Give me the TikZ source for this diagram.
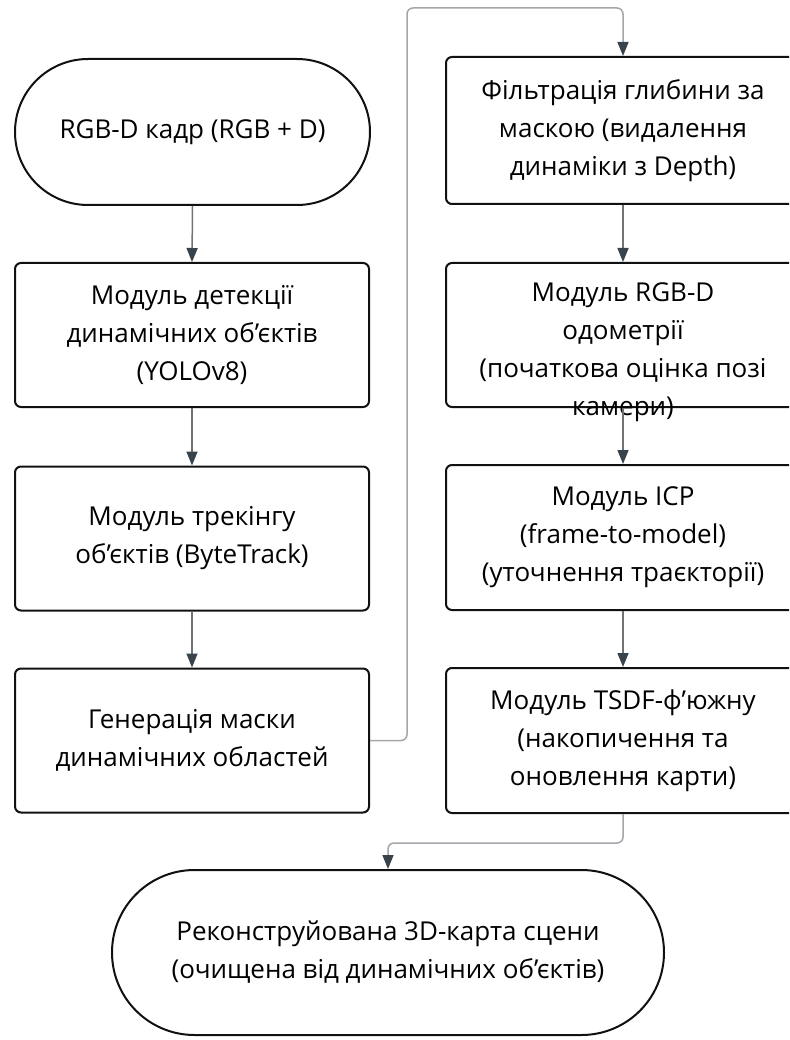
\documentclass[tikz,border=0pt]{standalone}
\usepackage{fontspec}
\setmainfont{Open Sans}
\usetikzlibrary{arrows.meta,shapes.misc}
\definecolor{linec}{HTML}{6E7378}
\definecolor{elbowc}{HTML}{A3A7AB}
\definecolor{tipc}{HTML}{38434C}
\definecolor{boxc}{HTML}{111111}
\begin{document}
\begin{tikzpicture}[x=1pt,y=-1pt,
  txt/.style={align=center, font=\fontsize{26}{38}\selectfont, inner sep=0pt},
  box/.style={txt, draw=boxc, line width=2pt, rounded corners=6pt,
    minimum width=354pt, minimum height=144pt},
  pill/.style={txt, draw=boxc, line width=2pt, rounded rectangle},
  arr/.style={draw=linec, line width=1.5pt,
    -{Triangle[length=14pt,width=11pt,color=tipc]}},
  elbow/.style={draw=elbowc, line width=1.5pt, rounded corners=6pt,
    -{Triangle[length=14pt,width=11pt,color=tipc]}}]
\useasboundingbox (0,0) rectangle (789,1040);
\clip (0,0) rectangle (789,1040);

% left column
\node[pill, minimum width=355pt, minimum height=146pt] (start) at (192.5,132) {RGB-D кадр (RGB + D)};
\node[box] (b2) at (192,335) {Модуль детекції\\динамічних об’єктів\\(YOLOv8)};
\node[box] (b3) at (192,538.5) {Модуль трекінгу\\об’єктів (ByteTrack)};
\node[box] (b4) at (192,740.5) {Генерація маски\\динамічних областей};

% right column
\node[box, minimum height=147pt] (r1) at (623,130.5) {Фільтрація глибини за\\маскою (видалення\\динаміки з Depth)};
\node[box] (r2) at (623,335) {};
\node[txt] (r2t) at (623,352) {Модуль RGB-D\\одометрії\\(початкова оцінка позі\\камери)};
\node[box, minimum height=145pt] (r3) at (623,537.5) {Модуль ICP\\(frame-to-model)\\(уточнення траєкторії)};
\node[box, minimum height=145pt] (r4) at (623,740.5) {Модуль TSDF-ф’южну\\(накопичення та\\оновлення карти)};

% end
\node[pill, minimum width=552pt, minimum height=165pt] (end) at (388,952.5) {Реконструйована 3D-карта сцени\\(очищена від динамічних об’єктів)};

% connectors
\draw[arr] (start.south) -- (b2.north);
\draw[arr] (b2.south) -- (b3.north);
\draw[arr] (b3.south) -- (b4.north);
\draw[arr] (r1.south) -- (r2.north);
\draw[arr] (r2.south) -- (r3.north);
\draw[arr] (r3.south) -- (r4.north);

\coordinate (e1) at (407,8);
\draw[elbow] (b4.east) -| (e1) -| (r1.north);
\coordinate (e2) at (388,843);
\draw[elbow] (r4.south) |- (e2) -- (end.north);
\end{tikzpicture}
\end{document}
